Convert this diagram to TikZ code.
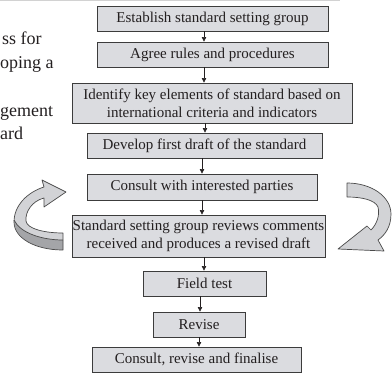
\documentclass[tikz,border=0pt]{standalone}
\usepackage{fontspec}
\setmainfont{Liberation Serif}
\usetikzlibrary{arrows.meta}
\definecolor{boxfill}{HTML}{DBDCE0}
\definecolor{boxline}{HTML}{3C3C3C}
\definecolor{txt}{HTML}{231F20}
\definecolor{arrlight}{HTML}{D2D3D6}
\definecolor{arrdark}{HTML}{A4A5A8}
\definecolor{arrline}{HTML}{4A4A4A}
\begin{document}
\begin{tikzpicture}[x=1pt,y=-1pt,
  box/.style={draw=boxline, fill=boxfill, line width=0.9pt, inner sep=0pt, align=center, text=txt, font=\fontsize{15}{18}\selectfont},
  conn/.style={draw=txt, line width=0.6pt, -{Triangle[width=4.5pt,length=4.5pt]}},
  lefttxt/.style={anchor=base west, inner sep=0pt, text=txt, font=\fontsize{18}{22}\selectfont},
  ribbon/.style={draw=arrline, line width=0.7pt, line join=round}]
\useasboundingbox (0,0) rectangle (392,378);
\draw[gray!35, line width=1.2pt] (0,0.6) -- (340,0.6);

% left cropped text
\node[lefttxt] (t1) at (2,44) {ss for};
\node[lefttxt] (t2) at (0,68) {oping a};
\node[lefttxt] (t3) at (0,116) {gement};
\node[lefttxt] (t4) at (0,139) {ard};

% boxes
\node[box, minimum width=231pt, minimum height=25pt] (e1) at (212.5,18.5) {Establish standard setting group};
\node[box, minimum width=231pt, minimum height=25pt] (e2) at (212.5,54.5) {Agree rules and procedures};
\node[box, minimum width=280pt, minimum height=40pt] (e3) at (212,103) {Identify key elements of standard based on\\international criteria and indicators};
\node[box, minimum width=235pt, minimum height=25pt] (e4) at (204.5,145.5) {Develop first draft of the standard};
\node[box, minimum width=230pt, minimum height=26pt] (e5) at (202,187) {Consult with interested parties};
\node[box, minimum width=253pt, minimum height=42pt] (e6) at (198.5,236) {Standard setting group reviews comments\\received and produces a revised draft};
\node[box, minimum width=123pt, minimum height=25pt] (e7) at (204.5,283.5) {Field test};
\node[box, minimum width=92pt, minimum height=25pt] (e8) at (199,324.5) {Revise};
\node[box, minimum width=209pt, minimum height=25pt] (e9) at (196.5,359.5) {Consult, revise and finalise};

% connectors
\draw[conn] (e1.south -| 204,0) -- (e2.north -| 204,0);
\draw[conn] (e2.south -| 204,0) -- (e3.north -| 204,0);
\draw[conn] (e3.south -| 205,0) -- (e4.north -| 205,0);
\draw[conn] (e4.south -| 202,0) -- (e5.north -| 202,0);
\draw[conn] (e5.south -| 202,0) -- (e6.north -| 202,0);
\draw[conn] (e6.south -| 204,0) -- (e7.north -| 204,0);
\draw[conn] (e7.south -| 200,0) -- (e8.north -| 200,0);
\draw[conn] (e8.south -| 199,0) -- (e9.north -| 199,0);

% left curved arrow
\fill[arrlight] (63,250) .. controls (35,250) and (14,238) .. (14,222) .. controls (14,205) and (28,192) .. (44,187) -- (42,180) -- (66,192) -- (44,207) -- (44,198) .. controls (32,201) and (25,212) .. (26,221) .. controls (27,229) and (45,233) .. (63,233) -- cycle;
\fill[arrdark] (63,240) .. controls (42,240) and (20,233) .. (14,220) .. controls (14,238) and (35,250) .. (63,250) -- cycle;
\draw[ribbon] (63,240) .. controls (42,240) and (20,233) .. (14,220);
\draw[ribbon] (63,250) .. controls (35,250) and (14,238) .. (14,222) .. controls (14,205) and (28,192) .. (44,187) -- (42,180) -- (66,192) -- (44,207) -- (44,198) .. controls (32,201) and (25,212) .. (26,221) .. controls (27,229) and (45,233) .. (63,233) -- cycle;

% right curved arrow
\fill[arrlight] (347,183) .. controls (372,183) and (391,197) .. (391,214) .. controls (391,227) and (385,235) .. (378,240) -- (384,251) -- (338,249) -- (367,226) -- (371,230) .. controls (377,224) and (380,215) .. (378,207) .. controls (375,200) and (362,197) .. (347,197) -- cycle;
\draw[ribbon] (347,183) .. controls (372,183) and (391,197) .. (391,214) .. controls (391,227) and (385,235) .. (378,240) -- (384,251) -- (338,249) -- (367,226) -- (371,230) .. controls (377,224) and (380,215) .. (378,207) .. controls (375,200) and (362,197) .. (347,197) -- cycle;
\end{tikzpicture}
\end{document}
